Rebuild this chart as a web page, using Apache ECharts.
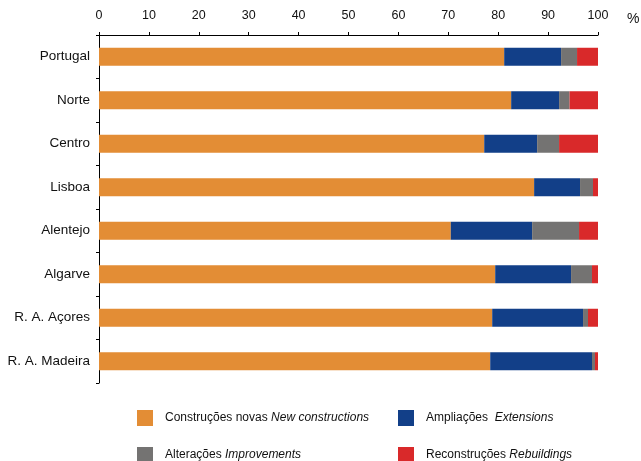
<!DOCTYPE html>
<html><head><meta charset="utf-8">
<script src="https://cdn.jsdelivr.net/npm/echarts@6/dist/echarts.min.js"></script>
<style>html,body{margin:0;padding:0;background:#fff}#c{width:641px;height:461px}</style>
</head><body><div id="c"></div>
<script>
const regions = ['Portugal','Norte','Centro','Lisboa','Alentejo','Algarve','R. A. Açores','R. A. Madeira'];
const newConstructions = [81.2, 82.6, 77.2, 87.2, 70.5, 79.4, 78.8, 78.4];
const extensions      = [11.4,  9.6, 10.6,  9.2, 16.3, 15.2, 18.2, 20.4];
const improvements    = [ 3.2,  2.1,  4.4,  2.6,  9.4,  4.2,  1.0,  0.6];
const rebuildings     = [ 4.2,  5.7,  7.8,  1.0,  3.8,  1.2,  2.0,  0.6];
const seriesNames = ['Construções novas', 'Ampliações', 'Alterações', 'Reconstruções'];
const seriesEnglish = ['New constructions', 'Extensions', 'Improvements', 'Rebuildings'];
const colors = ['#E38D35', '#123F88', '#747372', '#D9292A'];
const values = [newConstructions, extensions, improvements, rebuildings];

const FONT = '"Liberation Sans", Arial, sans-serif';
const chart = echarts.init(document.getElementById('c'), null, {renderer: 'canvas'});

const legendPos = [
  {left: 137, top: 410},
  {left: 398, top: 410},
  {left: 137, top: 447},
  {left: 398, top: 447}
];
const sep = [' ', '  ', ' ', ' '];

chart.setOption({
  animation: false,
  backgroundColor: '#fff',
  grid: {left: 99, right: 43, top: 35, bottom: 78, containLabel: false},
  xAxis: {
    type: 'value', position: 'top', min: 0, max: 100, interval: 10,
    axisLine: {show: true, lineStyle: {color: '#000', width: 1}},
    axisTick: {show: true, length: 3, lineStyle: {color: '#000'}},
    splitLine: {show: false},
    axisLabel: {color: '#111', fontFamily: FONT, fontSize: 12.5, margin: 13}
  },
  yAxis: {
    type: 'category', data: regions, inverse: true,
    axisLine: {show: true, lineStyle: {color: '#000', width: 1}},
    axisTick: {show: true, length: 3, lineStyle: {color: '#000'}},
    axisLabel: {color: '#111', fontFamily: FONT, fontSize: 13.5, margin: 9}
  },
  graphic: [{
    type: 'text', left: 627, top: 12,
    style: {text: '%', fill: '#111', font: '14px ' + FONT}
  }],
  legend: seriesNames.map((n, i) => ({
    data: [n], left: legendPos[i].left, top: legendPos[i].top,
    itemWidth: 16, itemHeight: 16, icon: 'rect', padding: 0,
    formatter: name => name + sep[i] + '{it|' + seriesEnglish[i] + '}',
    textStyle: {
      color: '#111', fontFamily: FONT, fontSize: 12, padding: [0, 0, 0, 7],
      rich: {it: {fontStyle: 'italic', color: '#111', fontFamily: FONT, fontSize: 12}}
    }
  })),
  series: seriesNames.map((n, i) => ({
    name: n, type: 'bar', stack: 'total', data: values[i], barWidth: 18,
    itemStyle: {color: colors[i]}
  }))
});
</script></body></html>
